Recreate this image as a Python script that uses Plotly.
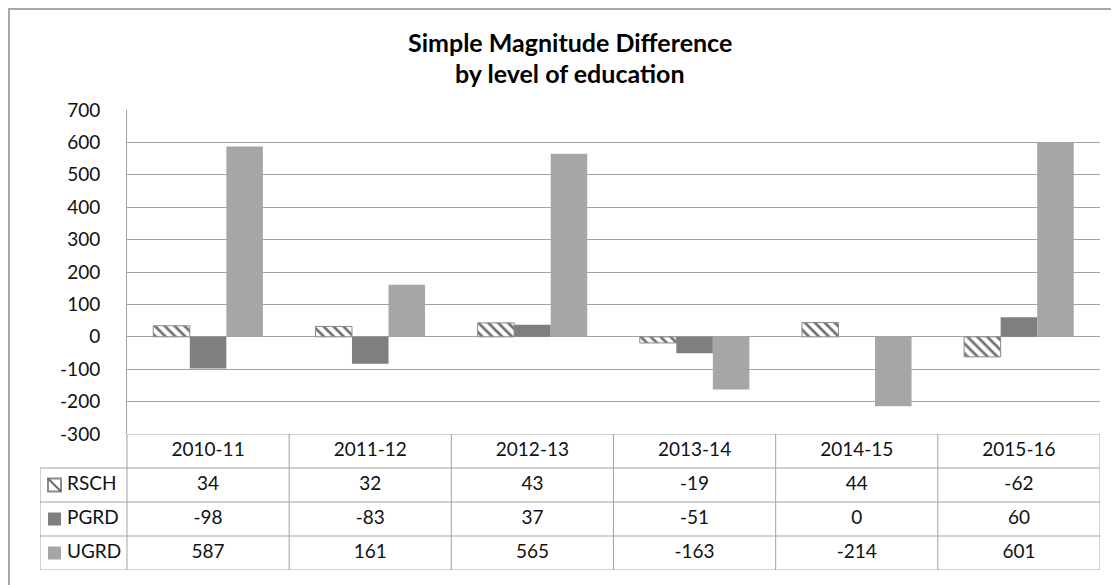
import plotly.graph_objects as go

# =====================================================
# DATA
# =====================================================
years = ["2010-11", "2011-12", "2012-13", "2013-14", "2014-15", "2015-16"]
series = ["RSCH", "PGRD", "UGRD"]
rsch = [34, 32, 43, -19, 44, -62]
pgrd = [-98, -83, 37, -51, 0, 60]
ugrd = [587, 161, 565, -163, -214, 601]
y_ticks = [-300, -200, -100, 0, 100, 200, 300, 400, 500, 600, 700]

# =====================================================
# GEOMETRY (page pixels -> paper); the page body adds an 8px margin
# =====================================================
OFF = 8
W, H = 1119 - OFF, 585 - OFF


def px_x(p):
    return (p - OFF) / W


def px_y(p):
    return 1 - (p - OFF) / H


PLOT_L, PLOT_R = 127, 1100
PLOT_T, PLOT_B = 110, 434
TABLE_L, TABLE_B = 40, 570
COL_W = (PLOT_R - PLOT_L) / len(years)
X2_MIN = -0.5 - (PLOT_L - TABLE_L) / COL_W

GRID = "#a3a3a3"
FONT = "Lato"
TXT = "#111111"
FILLS = {"RSCH": "white", "PGRD": "#7f7f7f", "UGRD": "#a6a6a6"}
STYLES = {
    "RSCH": dict(color="white", pattern=dict(shape="\\", fgcolor="#707070", bgcolor="white",
                                              size=7, solidity=0.38),
                 line=dict(color="#8a8a8a", width=1)),
    "PGRD": dict(color=FILLS["PGRD"], line=dict(width=0)),
    "UGRD": dict(color=FILLS["UGRD"], line=dict(width=0)),
}

fig = go.Figure()

# -----------------------
# BARS
# -----------------------
for name, vals in zip(series, [rsch, pgrd, ugrd]):
    fig.add_trace(go.Bar(x=years, y=vals, name=name, marker=STYLES[name],
                         xaxis="x", yaxis="y"))

# -----------------------
# DATA TABLE (on x2 / y2: columns 0..5, rows 0..3)
# -----------------------
tx, ty, tt = [], [], []
for c, yr in enumerate(years):
    tx.append(c); ty.append(0); tt.append(yr)
for r, vals in enumerate([rsch, pgrd, ugrd], start=1):
    for c, v in enumerate(vals):
        tx.append(c); ty.append(r); tt.append(str(v))
fig.add_trace(go.Scatter(x=tx, y=ty, text=tt, mode="text", xaxis="x2", yaxis="y2",
                         textfont=dict(family=FONT, size=19, color=TXT),
                         hoverinfo="skip"))

# row labels
lab_x = (67 - PLOT_L) / COL_W - 0.5
fig.add_trace(go.Scatter(x=[lab_x] * 3, y=[1, 2, 3], text=series, mode="text",
                         textposition="middle right", xaxis="x2", yaxis="y2",
                         textfont=dict(family=FONT, size=19, color=TXT),
                         hoverinfo="skip"))

shapes = []
line = dict(color=GRID, width=1)
shapes.append(dict(type="line", xref="x2", yref="y2", x0=-0.5, x1=5.5, y0=-0.5, y1=-0.5, line=line))
for r in [0.5, 1.5, 2.5, 3.5]:
    shapes.append(dict(type="line", xref="x2", yref="y2", x0=X2_MIN, x1=5.5, y0=r, y1=r, line=line))
shapes.append(dict(type="line", xref="x2", yref="y2", x0=X2_MIN, x1=X2_MIN, y0=0.5, y1=3.5, line=line))
for k in range(-1, 6):
    shapes.append(dict(type="line", xref="x2", yref="y2", x0=k + 0.5, x1=k + 0.5,
                       y0=-0.5, y1=3.5, line=line))

# legend keys in the row-label cells
key_x0 = (48 - PLOT_L) / COL_W - 0.5
key_x1 = (61 - PLOT_L) / COL_W - 0.5
key_h = 13 / ((TABLE_B - PLOT_B) / 4) / 2
for r, name in enumerate(series, start=1):
    if name == "RSCH":
        shapes.append(dict(type="rect", xref="x2", yref="y2", x0=key_x0, x1=key_x1,
                           y0=r - key_h, y1=r + key_h, fillcolor="white",
                           line=dict(color="#8a8a8a", width=2)))
        shapes.append(dict(type="line", xref="x2", yref="y2", x0=key_x0, x1=key_x1,
                           y0=r - key_h, y1=r + key_h, line=dict(color="#6a6a6a", width=2)))
    else:
        shapes.append(dict(type="rect", xref="x2", yref="y2", x0=key_x0, x1=key_x1,
                           y0=r - key_h, y1=r + key_h, fillcolor=FILLS[name],
                           line=dict(width=0)))

# outer chart border (left + top visible)
shapes.append(dict(type="rect", xref="paper", yref="paper", x0=px_x(9), x1=1.02,
                   y0=-0.02, y1=px_y(9), line=dict(color="#a8a8a8", width=2)))

# -----------------------
# TITLE
# -----------------------
annotations = [
    dict(text="<b>Simple Magnitude Difference</b>", x=px_x(570), y=px_y(42),
         xref="paper", yref="paper", showarrow=False, yanchor="middle",
         font=dict(family=FONT, size=25, color="#000")),
    dict(text="<b>by level of education</b>", x=px_x(570), y=px_y(73),
         xref="paper", yref="paper", showarrow=False, yanchor="middle",
         font=dict(family=FONT, size=25, color="#000")),
]

# -----------------------
# LAYOUT
# -----------------------
fig.update_layout(
    template=None,
    width=W, height=H, autosize=False,
    margin=dict(l=0, r=0, t=0, b=0, pad=0, autoexpand=False),
    paper_bgcolor="white", plot_bgcolor="white",
    showlegend=False,
    barmode="group", bargap=0.324, bargroupgap=0,
    shapes=shapes, annotations=annotations,
    xaxis=dict(domain=[px_x(PLOT_L), px_x(PLOT_R)], type="category", range=[-0.5, 5.5],
               showticklabels=False, showgrid=False, zeroline=False, showline=False,
               ticks="", automargin=False, anchor="y"),
    yaxis=dict(domain=[px_y(PLOT_B), px_y(PLOT_T)], range=[-300, 700],
               tickvals=y_ticks, ticktext=[str(v) for v in y_ticks],
               showgrid=True, gridcolor=GRID, gridwidth=1,
               zeroline=True, zerolinecolor=GRID, zerolinewidth=1,
               showline=True, linecolor=GRID, linewidth=1,
               ticks="", ticklabelstandoff=22, automargin=False,
               tickfont=dict(family=FONT, size=19, color=TXT), anchor="x"),
    xaxis2=dict(domain=[px_x(TABLE_L), px_x(PLOT_R)], range=[X2_MIN, 5.5],
                visible=False, automargin=False, anchor="y2"),
    yaxis2=dict(domain=[px_y(TABLE_B), px_y(PLOT_B)], range=[3.5, -0.5],
                visible=False, automargin=False, anchor="x2"),
)

fig.write_html("out.html")
